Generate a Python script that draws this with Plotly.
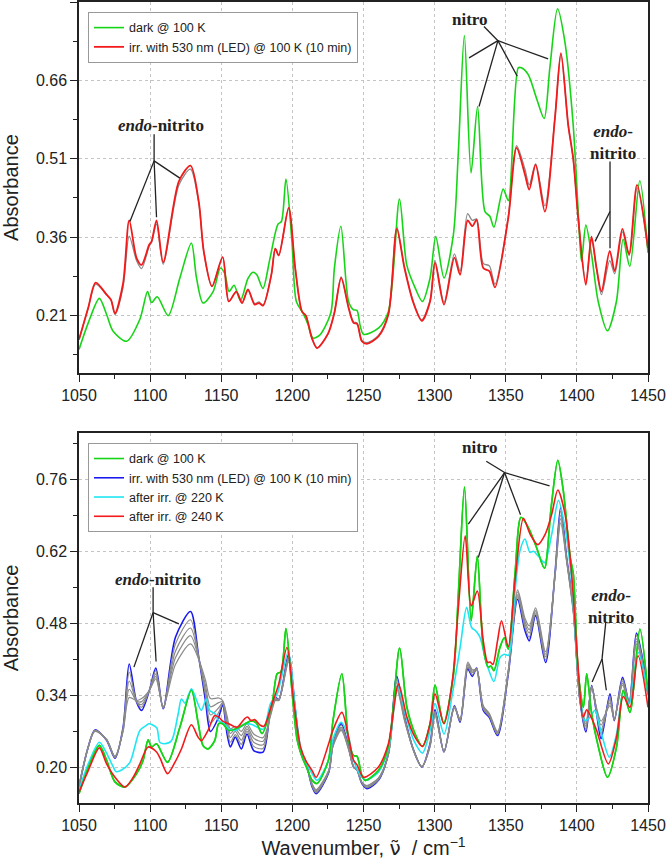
import plotly.graph_objects as go

# ---------------- Top panel data ----------------
top_green_x = [1050, 1056.5, 1064.3, 1069.4, 1074, 1083.5, 1092.8, 1098.2, 1101, 1105, 1112.7, 1120.9, 1129, 1132.6,
               1137.2, 1144.3, 1149.4, 1152.5, 1155.5, 1159, 1163.5, 1168.8, 1172.3, 1175, 1179.3, 1184.3, 1189.9,
               1192.3, 1195.5, 1199.7, 1202.8, 1207.4, 1211, 1214.4, 1219, 1227, 1229.5, 1234.1, 1239.5, 1243, 1245.4,
               1247.7, 1250, 1260.5, 1267.5, 1275.3, 1280.4, 1286.3, 1291.4, 1296.8, 1300.8, 1306.6, 1313.2, 1316.7,
               1320.9, 1325.6, 1330.2, 1335.4, 1338.8, 1341.7, 1348.2, 1351.8, 1358.8, 1361, 1365.8, 1371.6, 1377,
               1381, 1386.4, 1391.5, 1397.4, 1402.1, 1403.3, 1406.3, 1410.3, 1415, 1421.5, 1427.8, 1432.5, 1437.2,
               1444.2, 1450]
top_green_y = [0.145, 0.196, 0.243, 0.212, 0.180, 0.161, 0.203, 0.256, 0.235, 0.246, 0.210, 0.282, 0.349, 0.282,
               0.234, 0.256, 0.301, 0.290, 0.256, 0.268, 0.239, 0.281, 0.293, 0.288, 0.262, 0.320, 0.385,
               0.390, 0.471, 0.352, 0.237, 0.215, 0.193, 0.167, 0.172, 0.215, 0.300, 0.381, 0.237, 0.221, 0.220,
               0.190, 0.174, 0.186, 0.218, 0.433, 0.307, 0.263, 0.237, 0.282, 0.361, 0.282, 0.365, 0.524,
               0.746, 0.483, 0.610, 0.409, 0.400, 0.379, 0.452, 0.430, 0.684, 0.684, 0.671, 0.626, 0.587,
               0.684, 0.797, 0.735, 0.575, 0.352, 0.314, 0.383, 0.327, 0.237, 0.181, 0.237, 0.356, 0.304,
               0.468, 0.330]

top_red_x = [1050, 1056.5, 1061.7, 1069.4, 1072.5, 1075.3, 1081, 1085.3, 1090.5, 1094, 1099.4, 1101, 1104.5, 1109.2,
             1120.2, 1128.4, 1134.2, 1137.7, 1143.5, 1151, 1155.3, 1160.6, 1164.6, 1168.8, 1173.5, 1176.5, 1179.4,
             1185.2, 1188, 1190.4, 1197.4, 1202, 1206.7, 1209.5, 1213.7, 1217.3, 1225, 1229.5, 1234.3, 1239.5, 1243,
             1245.5, 1248.8, 1252.3, 1260.5, 1267.5, 1273.4, 1278.8, 1285.1, 1291, 1296.8, 1300.3, 1306.6, 1313.9,
             1317.9, 1323.2, 1326.5, 1329.5, 1334.2, 1338.5, 1342.4, 1351.8, 1357.6, 1363.5, 1366.5, 1371, 1377.5,
             1384.6, 1388.8, 1393.9, 1397.4, 1400.9, 1406.3, 1410.3, 1413.8, 1417.3, 1423.1, 1426.6, 1432, 1436.7,
             1442.3, 1450]
top_red_y = [0.164, 0.225, 0.273, 0.250, 0.240, 0.214, 0.272, 0.392, 0.320, 0.307, 0.346, 0.352, 0.392, 0.312,
             0.467, 0.497, 0.428, 0.333, 0.266, 0.322, 0.237, 0.256, 0.234, 0.260, 0.231, 0.234, 0.229,
             0.288, 0.338, 0.325, 0.416, 0.301, 0.218, 0.210, 0.167, 0.148, 0.175, 0.215, 0.282, 0.225, 0.196,
             0.194, 0.161, 0.156, 0.170, 0.212, 0.376, 0.301, 0.234, 0.200, 0.237, 0.311, 0.231, 0.321,
             0.288, 0.392, 0.381, 0.393, 0.301, 0.295, 0.264, 0.397, 0.531, 0.480, 0.451, 0.499, 0.409,
             0.588, 0.712, 0.575, 0.511, 0.397, 0.269, 0.361, 0.301, 0.256, 0.334, 0.295, 0.376, 0.327,
             0.460, 0.339]
top_gray_y = [0.164, 0.225, 0.270, 0.250, 0.240, 0.212, 0.265, 0.362, 0.315, 0.300, 0.343, 0.350, 0.385, 0.308,
              0.460, 0.490, 0.425, 0.333, 0.266, 0.322, 0.237, 0.256, 0.234, 0.258, 0.233, 0.236, 0.230,
              0.288, 0.338, 0.325, 0.416, 0.301, 0.218, 0.210, 0.167, 0.148, 0.175, 0.215, 0.284, 0.226, 0.198,
              0.196, 0.163, 0.158, 0.172, 0.214, 0.380, 0.303, 0.236, 0.202, 0.239, 0.315, 0.235, 0.328,
              0.295, 0.405, 0.392, 0.395, 0.310, 0.305, 0.270, 0.400, 0.535, 0.490, 0.460, 0.500, 0.420,
              0.590, 0.710, 0.575, 0.510, 0.400, 0.275, 0.355, 0.300, 0.250, 0.315, 0.290, 0.370, 0.325,
              0.455, 0.335]

# ---------------- Bottom panel data ----------------
bot_green_x = [1050, 1056.5, 1064.3, 1069.4, 1075.3, 1082.3, 1090.5, 1095.1, 1098.6, 1101, 1104.5, 1112.2, 1120.9,
               1129, 1133.7, 1137.1, 1140.7, 1145.4, 1148.2, 1151, 1155.3, 1161, 1166.9, 1171.6, 1175, 1178.7,
               1185.7, 1189.3, 1192, 1195.5, 1199.9, 1203.4, 1206.9, 1210, 1213.9, 1217.4, 1225.4, 1228.5, 1234.8,
               1239.5, 1243, 1245.4, 1248.8, 1251.2, 1260.5, 1267.5, 1275.4, 1280.5, 1286.3, 1291.4, 1296.8, 1300.3,
               1306.3, 1313.3, 1316.8, 1321, 1325.7, 1330, 1334.2, 1337.7, 1339.5, 1341.7, 1345.9, 1349, 1351.8,
               1356.5, 1360.7, 1365.9, 1371.7, 1377.2, 1381.9, 1386.6, 1390.5, 1395.3, 1397.5, 1401, 1404.6, 1406.9,
               1410.4, 1415.1, 1421.5, 1427.9, 1432.6, 1437.3, 1444.3, 1450]
bot_green_y = [0.149, 0.200, 0.243, 0.214, 0.172, 0.162, 0.188, 0.214, 0.254, 0.240, 0.246, 0.210, 0.278,
               0.350, 0.288, 0.243, 0.236, 0.252, 0.285, 0.285, 0.272, 0.276, 0.285, 0.291, 0.285, 0.266,
               0.324, 0.382, 0.386, 0.470, 0.343, 0.253, 0.220, 0.200, 0.175, 0.169, 0.215, 0.290, 0.382,
               0.253, 0.223, 0.222, 0.185, 0.175, 0.194, 0.240, 0.432, 0.317, 0.265, 0.241, 0.285, 0.360,
               0.286, 0.382, 0.543, 0.745, 0.485, 0.611, 0.433, 0.395, 0.397, 0.388, 0.433, 0.452, 0.430,
               0.576, 0.686, 0.666, 0.627, 0.587, 0.705, 0.797, 0.737, 0.608, 0.576, 0.382, 0.317, 0.382,
               0.304, 0.240, 0.181, 0.240, 0.350, 0.307, 0.469, 0.343]

bot_cyan_x = [1050, 1056.5, 1064.3, 1069, 1074.1, 1076, 1080, 1085.8, 1092.8, 1097.5, 1099.1, 1104.6, 1106.8, 1110,
              1115, 1119.7, 1122, 1124.5, 1129, 1132, 1136, 1139.5, 1142, 1145.4, 1148.2, 1152, 1155.5, 1159.9,
              1166.9, 1172, 1177.5, 1180, 1184.6, 1189.3, 1197, 1201.7, 1205.7, 1209.5, 1213.9, 1217.4, 1225.6,
              1228.5, 1234.3, 1239.5, 1243, 1248.8, 1251.5, 1260.5, 1267.5, 1274.1, 1280, 1285.3, 1291.4, 1296.8,
              1300.3, 1306.6, 1312.5, 1317.9, 1322.5, 1326, 1329, 1331.9, 1335.4, 1338, 1341.7, 1346, 1349, 1352,
              1356.5, 1360, 1363.5, 1367, 1369.5, 1372.8, 1377.2, 1382.3, 1387, 1391.7, 1396.3, 1401, 1405.7, 1409,
              1412.7, 1416.2, 1422.8, 1427.9, 1432.6, 1436.8, 1443, 1450]
bot_cyan_y = [0.156, 0.207, 0.249, 0.230, 0.201, 0.192, 0.195, 0.210, 0.272, 0.282, 0.285, 0.277, 0.249, 0.246,
              0.252, 0.304, 0.333, 0.325, 0.353, 0.335, 0.311, 0.333, 0.310, 0.305, 0.291, 0.285, 0.275, 0.272,
              0.285, 0.283, 0.275, 0.275, 0.324, 0.343, 0.424, 0.324, 0.240, 0.210, 0.188, 0.175, 0.215,
              0.255, 0.288, 0.259, 0.214, 0.181, 0.175, 0.191, 0.236, 0.356, 0.298, 0.253, 0.228, 0.272,
              0.324, 0.265, 0.343, 0.433, 0.511, 0.472, 0.465, 0.453, 0.414, 0.390, 0.367, 0.414, 0.420, 0.418,
              0.543, 0.621, 0.644, 0.618, 0.620, 0.611, 0.598, 0.653, 0.719, 0.666, 0.563, 0.382, 0.291, 0.297,
              0.311, 0.278, 0.220, 0.265, 0.346, 0.324, 0.424, 0.343]

bot_red_x = [1050, 1056.5, 1064.3, 1069.4, 1075.3, 1082.3, 1088.1, 1092.8, 1098.6, 1104.5, 1107, 1112.2, 1117.4, 1122,
             1129, 1133.7, 1136, 1140.7, 1145.4, 1148.2, 1151, 1155.3, 1161.1, 1166.5, 1168.5, 1171, 1173.5, 1177.5,
             1180, 1185.7, 1190.4, 1196.2, 1200.9, 1205.7, 1209.5, 1213.9, 1216.7, 1225.4, 1228.2, 1234.8, 1239.5,
             1243, 1245.5, 1250, 1260.5, 1267.5, 1274.6, 1280.5, 1286, 1291.4, 1296.8, 1300.3, 1306.6, 1312.5,
             1316.7, 1321.5, 1325.7, 1330, 1334.2, 1337.3, 1339, 1341, 1344.2, 1347, 1351.8, 1356.5, 1362.4, 1367.2,
             1372.5, 1377.7, 1382.3, 1386.6, 1391.7, 1396.3, 1400.4, 1404.4, 1406.9, 1410, 1413.9, 1422.1, 1427.9,
             1432.6, 1437.3, 1443, 1450]
bot_red_y = [0.152, 0.194, 0.238, 0.207, 0.181, 0.162, 0.181, 0.207, 0.240, 0.230, 0.218, 0.188, 0.210, 0.236,
             0.283, 0.259, 0.252, 0.272, 0.301, 0.298, 0.290, 0.285, 0.278, 0.295, 0.298, 0.291, 0.293, 0.282,
             0.280, 0.324, 0.362, 0.433, 0.330, 0.240, 0.213, 0.194, 0.181, 0.245, 0.270, 0.307, 0.259,
             0.214, 0.205, 0.181, 0.201, 0.246, 0.362, 0.298, 0.260, 0.241, 0.285, 0.343, 0.285, 0.369,
             0.511, 0.650, 0.514, 0.543, 0.446, 0.404, 0.405, 0.400, 0.446, 0.485, 0.435, 0.563, 0.684, 0.653,
             0.633, 0.653, 0.692, 0.739, 0.692, 0.576, 0.414, 0.298, 0.312, 0.298, 0.272, 0.207, 0.259,
             0.338, 0.317, 0.417, 0.317]

bot_blue_x = [1050, 1056, 1061.2, 1069.4, 1075.3, 1081, 1085.3, 1090.5, 1094, 1099.5, 1104, 1109.2, 1117.8, 1128.4,
              1134.2, 1138.9, 1142.4, 1148.2, 1151, 1154.1, 1156.4, 1159.9, 1164.1, 1168.1, 1172.8, 1179.4, 1184.6,
              1188.1, 1190.5, 1197.4, 1202.1, 1206.2, 1209.1, 1213.9, 1216.7, 1225.5, 1228.5, 1234.3, 1239.5, 1243,
              1245.5, 1248.8, 1252.3, 1260.5, 1267.5, 1273.4, 1278.9, 1285.3, 1291, 1296.8, 1300.3, 1306.6, 1313.9,
              1317.9, 1323.3, 1326.5, 1329.5, 1334.2, 1338.5, 1344.2, 1351.8, 1358.3, 1363.5, 1366.5, 1371, 1378,
              1384.6, 1388.6, 1392.8, 1397.5, 1402.2, 1406.4, 1410.4, 1413.9, 1417, 1423.3, 1426.3, 1432.1, 1436.8,
              1441.9, 1450]
bot_blue_y = [0.162, 0.235, 0.273, 0.253, 0.218, 0.278, 0.401, 0.327, 0.311, 0.350, 0.393, 0.314, 0.453, 0.503,
              0.414, 0.330, 0.270, 0.298, 0.322, 0.265, 0.240, 0.259, 0.236, 0.265, 0.233, 0.230, 0.311,
              0.336, 0.332, 0.421, 0.311, 0.227, 0.214, 0.162, 0.149, 0.190, 0.245, 0.285, 0.240, 0.201,
              0.195, 0.169, 0.159, 0.175, 0.227, 0.377, 0.298, 0.233, 0.201, 0.246, 0.312, 0.230, 0.320,
              0.288, 0.392, 0.377, 0.393, 0.311, 0.297, 0.262, 0.382, 0.527, 0.466, 0.446, 0.495, 0.404,
              0.576, 0.705, 0.608, 0.511, 0.330, 0.269, 0.359, 0.304, 0.256, 0.343, 0.291, 0.375, 0.327,
              0.461, 0.346]
bot_gray1_y = [0.163, 0.235, 0.272, 0.253, 0.219, 0.276, 0.385, 0.328, 0.317, 0.350, 0.388, 0.315, 0.440, 0.487,
               0.413, 0.340, 0.286, 0.307, 0.324, 0.274, 0.249, 0.264, 0.245, 0.270, 0.241, 0.237, 0.308,
               0.335, 0.332, 0.417, 0.311, 0.227, 0.213, 0.164, 0.151, 0.191, 0.244, 0.282, 0.239, 0.201,
               0.195, 0.170, 0.161, 0.176, 0.227, 0.371, 0.296, 0.233, 0.201, 0.245, 0.309, 0.231, 0.319,
               0.290, 0.395, 0.380, 0.392, 0.313, 0.299, 0.264, 0.384, 0.532, 0.472, 0.453, 0.499, 0.409,
               0.575, 0.698, 0.606, 0.508, 0.330, 0.274, 0.358, 0.307, 0.265, 0.337, 0.292, 0.371, 0.327,
               0.456, 0.345]
bot_gray2_y = [0.164, 0.235, 0.272, 0.254, 0.220, 0.274, 0.368, 0.328, 0.322, 0.350, 0.382, 0.316, 0.426, 0.471,
               0.412, 0.350, 0.302, 0.316, 0.326, 0.282, 0.258, 0.270, 0.253, 0.275, 0.249, 0.244, 0.306,
               0.333, 0.331, 0.413, 0.311, 0.226, 0.212, 0.165, 0.153, 0.192, 0.243, 0.278, 0.238, 0.201,
               0.195, 0.171, 0.162, 0.178, 0.226, 0.365, 0.294, 0.233, 0.201, 0.243, 0.306, 0.231, 0.318,
               0.292, 0.399, 0.384, 0.392, 0.316, 0.301, 0.266, 0.386, 0.536, 0.478, 0.461, 0.503, 0.415,
               0.573, 0.690, 0.604, 0.506, 0.330, 0.280, 0.357, 0.310, 0.273, 0.332, 0.293, 0.368, 0.326,
               0.450, 0.343]
bot_gray3_y = [0.164, 0.235, 0.271, 0.254, 0.221, 0.272, 0.352, 0.329, 0.328, 0.350, 0.377, 0.317, 0.413, 0.456,
               0.411, 0.360, 0.318, 0.326, 0.328, 0.291, 0.266, 0.275, 0.262, 0.280, 0.257, 0.251, 0.303,
               0.332, 0.331, 0.409, 0.310, 0.226, 0.211, 0.167, 0.155, 0.193, 0.242, 0.275, 0.236, 0.201,
               0.195, 0.171, 0.164, 0.179, 0.226, 0.358, 0.292, 0.232, 0.202, 0.242, 0.303, 0.232, 0.316,
               0.293, 0.402, 0.387, 0.391, 0.318, 0.303, 0.268, 0.388, 0.541, 0.484, 0.468, 0.506, 0.420,
               0.572, 0.683, 0.602, 0.503, 0.330, 0.285, 0.356, 0.312, 0.282, 0.326, 0.294, 0.364, 0.326,
               0.445, 0.342]
bot_gray4_y = [0.165, 0.235, 0.270, 0.255, 0.222, 0.270, 0.336, 0.330, 0.334, 0.350, 0.372, 0.318, 0.400, 0.440,
               0.410, 0.370, 0.334, 0.335, 0.330, 0.300, 0.275, 0.280, 0.270, 0.285, 0.265, 0.258, 0.300,
               0.330, 0.330, 0.405, 0.310, 0.225, 0.210, 0.168, 0.157, 0.194, 0.240, 0.272, 0.235, 0.201,
               0.195, 0.172, 0.165, 0.180, 0.225, 0.352, 0.290, 0.232, 0.202, 0.240, 0.300, 0.232, 0.315,
               0.295, 0.405, 0.390, 0.390, 0.320, 0.305, 0.270, 0.390, 0.545, 0.490, 0.475, 0.510, 0.425,
               0.570, 0.675, 0.600, 0.500, 0.330, 0.290, 0.355, 0.315, 0.290, 0.320, 0.295, 0.360, 0.325,
               0.440, 0.340]

x_ticks = [1050, 1100, 1150, 1200, 1250, 1300, 1350, 1400, 1450]

GREEN = "#16d416"
RED = "#f21a1a"
BLUE = "#1a1af0"
CYAN = "#1ee6f2"
GRAY = "#8a8a8a"

SPL = dict(shape="spline", smoothing=0.8)

fig = go.Figure()

# top
fig.add_trace(go.Scatter(x=top_red_x, y=top_gray_y, mode="lines", line=dict(color=GRAY, width=1.3, **SPL),
                         showlegend=False, xaxis="x", yaxis="y", hoverinfo="skip"))
fig.add_trace(go.Scatter(x=top_green_x, y=top_green_y, mode="lines", name="dark @ 100 K",
                         line=dict(color=GREEN, width=1.6, **SPL), xaxis="x", yaxis="y", legend="legend"))
fig.add_trace(go.Scatter(x=top_red_x, y=top_red_y, mode="lines", name="irr. with 530 nm (LED) @ 100 K (10 min)",
                         line=dict(color=RED, width=1.8, **SPL), xaxis="x", yaxis="y", legend="legend"))

# bottom: blue drawn first, grey intermediate spectra over it
fig.add_trace(go.Scatter(x=bot_green_x, y=bot_green_y, mode="lines", name="dark @ 100 K",
                         line=dict(color=GREEN, width=1.6, **SPL), xaxis="x2", yaxis="y2", legend="legend2",
                         visible=True, legendrank=1))
fig.add_trace(go.Scatter(x=bot_blue_x, y=bot_blue_y, mode="lines", name="irr. with 530 nm (LED) @ 100 K (10 min)",
                         line=dict(color=BLUE, width=1.6, **SPL), xaxis="x2", yaxis="y2", legend="legend2",
                         legendrank=2))
for gy in [bot_gray1_y, bot_gray2_y, bot_gray3_y, bot_gray4_y]:
    fig.add_trace(go.Scatter(x=bot_blue_x, y=gy, mode="lines", line=dict(color=GRAY, width=1.2, **SPL),
                             showlegend=False, xaxis="x2", yaxis="y2", hoverinfo="skip"))
fig.add_trace(go.Scatter(x=bot_cyan_x, y=bot_cyan_y, mode="lines", name="after irr. @ 220 K",
                         line=dict(color=CYAN, width=1.6, **SPL), xaxis="x2", yaxis="y2", legend="legend2",
                         legendrank=3))
fig.add_trace(go.Scatter(x=bot_green_x, y=bot_green_y, mode="lines", showlegend=False,
                         line=dict(color=GREEN, width=1.6, **SPL), xaxis="x2", yaxis="y2", hoverinfo="skip"))
fig.add_trace(go.Scatter(x=bot_red_x, y=bot_red_y, mode="lines", name="after irr. @ 240 K",
                         line=dict(color=RED, width=1.6, **SPL), xaxis="x2", yaxis="y2", legend="legend2",
                         legendrank=4))

tickfont = dict(family="Liberation Sans, Arial", size=16, color="#222")
common_x = dict(range=[1050, 1450], tickvals=x_ticks, ticks="outside", ticklen=7, tickwidth=1.3, tickcolor="#222",
                showline=True, linecolor="#222", linewidth=1.5, mirror=True, showgrid=True, gridcolor="#c4c4c4",
                griddash="dot", gridwidth=1, zeroline=False, tickfont=tickfont, ticklabeloverflow="allow",
                minor=dict(dtick=25, tick0=1050, ticks="outside", ticklen=4, tickcolor="#222", showgrid=False))
common_y = dict(ticks="outside", ticklen=7, tickwidth=1.3, tickcolor="#222", showline=True, linecolor="#222",
                linewidth=1.5, mirror=True, showgrid=True, gridcolor="#c4c4c4", griddash="dot", gridwidth=1,
                zeroline=False, tickfont=tickfont, tickformat=".2f",
                title=dict(text="Absorbance", font=dict(family="Liberation Sans, Arial", size=20, color="#222"), standoff=14))

H = 803.0
legfont = dict(family="Liberation Sans, Arial", size=12.5, color="#222")
fig.update_layout(
    width=666, height=863,
    margin=dict(l=79, r=17, t=0, b=60),
    paper_bgcolor="white", plot_bgcolor="white",
    xaxis=dict(common_x, anchor="y", domain=[0, 1]),
    yaxis=dict(common_y, anchor="x", domain=[(H - 372) / H, 1], range=[0.10, 0.81], tick0=0.21, dtick=0.15,
               minor=dict(dtick=0.075, tick0=0.21, ticks="outside", ticklen=4, tickcolor="#222", showgrid=False)),
    xaxis2=dict(common_x, anchor="y2", domain=[0, 1],
                title=dict(text="Wavenumber, <span style=\"font-family:DejaVu Sans\">ν̃</span>  / cm<sup>−1</sup>",
                           font=dict(family="Liberation Sans, Arial", size=20, color="#222"), standoff=8)),
    yaxis2=dict(common_y, anchor="x2", domain=[0, (H - 432) / H], range=[0.131, 0.85], tick0=0.20, dtick=0.14,
                minor=dict(dtick=0.07, tick0=0.20, ticks="outside", ticklen=4, tickcolor="#222", showgrid=False)),
    legend=dict(x=(88 - 79) / 570, y=(H - 10) / H, xanchor="left", yanchor="top", bgcolor="white",
                bordercolor="#999", borderwidth=1, font=legfont, tracegroupgap=0, itemwidth=30),
    legend2=dict(x=(88 - 79) / 570, y=(H - 442) / H, xanchor="left", yanchor="top", bgcolor="white",
                 bordercolor="#999", borderwidth=1, font=legfont, tracegroupgap=0, itemwidth=30,
                 traceorder="normal"),
    showlegend=True,
)

# leader lines for labels, in data coordinates
lines_top = [
    (1102.8, 0.557, 1102.8, 0.506), (1102.8, 0.506, 1085.8, 0.390), (1102.8, 0.506, 1104.5, 0.398),
    (1102.8, 0.506, 1120.9, 0.473),
    (1334.7, 0.763, 1344.5, 0.736), (1344.5, 0.736, 1324.2, 0.703), (1344.5, 0.736, 1331.2, 0.610),
    (1344.5, 0.736, 1358.1, 0.668), (1344.5, 0.736, 1379.8, 0.701),
    (1423.3, 0.505, 1423.3, 0.339), (1423.3, 0.409, 1412.8, 0.352),
]
lines_bot = [
    (1102.1, 0.550, 1102.1, 0.501), (1102.1, 0.501, 1088.6, 0.395), (1102.1, 0.501, 1104.2, 0.406),
    (1102.1, 0.501, 1120.2, 0.479),
    (1336.3, 0.795, 1349.2, 0.773), (1349.2, 0.773, 1323.7, 0.673), (1349.2, 0.773, 1330.7, 0.608),
    (1349.2, 0.773, 1360.4, 0.691), (1349.2, 0.773, 1380.8, 0.747),
    (1420.3, 0.482, 1417.7, 0.411), (1417.7, 0.411, 1410.7, 0.366), (1417.7, 0.411, 1420.7, 0.350),
]
shapes = []
for (x0, y0, x1, y1) in lines_top:
    shapes.append(dict(type="line", xref="x", yref="y", x0=x0, y0=y0, x1=x1, y1=y1, line=dict(color="#222", width=1.3)))
for (x0, y0, x1, y1) in lines_bot:
    shapes.append(dict(type="line", xref="x2", yref="y2", x0=x0, y0=y0, x1=x1, y1=y1, line=dict(color="#222", width=1.3)))
fig.update_layout(shapes=shapes)

afont = dict(family="Liberation Serif, DejaVu Serif, serif", size=17, color="#222")
annots = [
    dict(xref="x", yref="y", x=1107.5, y=0.574, text="<b><i>endo</i>-nitrito</b>"),
    dict(xref="x", yref="y", x=1324.7, y=0.776, text="<b>nitro</b>"),
    dict(xref="x", yref="y", x=1425.4, y=0.541, text="<b><i>endo</i>-<br>nitrito</b>"),
    dict(xref="x2", yref="y2", x=1105.6, y=0.566, text="<b><i>endo</i>-nitrito</b>"),
    dict(xref="x2", yref="y2", x=1331.8, y=0.821, text="<b>nitro</b>"),
    dict(xref="x2", yref="y2", x=1424.0, y=0.512, text="<b><i>endo</i>-<br>nitrito</b>"),
]
for a in annots:
    a.update(showarrow=False, font=afont, xanchor="center", yanchor="middle")
fig.update_layout(annotations=annots)

fig.write_html("out.html")
